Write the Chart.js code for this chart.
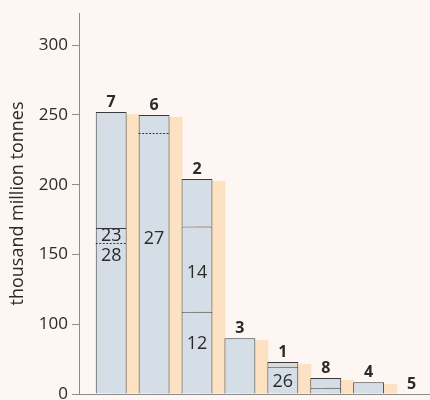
<!DOCTYPE html>
<html>
<head>
<meta charset="utf-8">
<script src="https://cdn.jsdelivr.net/npm/chart.js@4"></script>
<style>
    html, body { margin: 0; padding: 0; background: #fdf6f3; }
    #wrap { width: 430px; height: 400px; }
</style>
</head>
<body>
<div id="wrap"><canvas id="chart"></canvas></div>
<script>
const barLabels = ['7', '6', '2', '3', '1', '8', '4', '5'];
const lowerPart = [158, 237, 109, 80, 39, 9, 17, 0];
const middlePart = [11, 13, 61, 0, 7, 14, 0, 0];
const upperPart = [83, 0, 34, 0, 0, 0, 0, 0];

// line on top of the lower / middle part: 'solid', 'dashed' or ''
const lowerDivider = ['dashed', 'dashed', 'solid', '', 'solid', 'solid', '', ''];
const middleDivider = ['solid', '', 'solid', '', '', '', '', ''];

// numbers written inside the bars
const noteText = ['23', '28', '27', '14', '12', '26'];
const noteBar = [0, 0, 1, 2, 2, 4];
const noteValue = [163, 149, 161, 137, 72, 18];

const yTicks = [0, 100, 150, 200, 250, 300];

const barFill = '#d5dee6';
const barLine = '#3a3a3a';
const shadowFill = '#fce2c2';
const axisGray = '#8c8c8c';
const textColor = '#2b2b2b';

Chart.defaults.font.family = '"Open Sans", sans-serif';

// the axis is squeezed below 100: 0-100 takes the room of 50
const squeeze = v => v < 100 ? v / 2 : v - 50;

class BrokenScale extends Chart.LinearScale {
    getPixelForValue(value) {
        const a = squeeze(this.min), b = squeeze(this.max);
        return this.getPixelForDecimal((squeeze(value) - a) / (b - a));
    }
    getValueForPixel(pixel) {
        const a = squeeze(this.min), b = squeeze(this.max);
        const s = a + this.getDecimalForPixel(pixel) * (b - a);
        return s < 50 ? s * 2 : s + 50;
    }
}
BrokenScale.id = 'broken';
BrokenScale.defaults = Chart.LinearScale.defaults;
Chart.register(BrokenScale);

function toPoints(values) {
    return values.map((v, i) => ({ x: i + 1, y: v }));
}

function partBorder(topLine) {
    return { top: topLine ? 1 : 0, left: 1, right: 1, bottom: 0 };
}

function stackTop(chart, i) {
    let top = null;
    for (let d = 0; d < 3; d++) {
        const el = chart.getDatasetMeta(d).data[i];
        if (top === null || el.y < top.y) top = el;
    }
    return top;
}

const shadowPlugin = {
    id: 'shadows',
    beforeDatasetsDraw(chart) {
        const ctx = chart.ctx;
        ctx.save();
        ctx.fillStyle = shadowFill;
        barLabels.forEach((label, i) => {
            const top = stackTop(chart, i);
            const base = chart.getDatasetMeta(0).data[i].base;
            if (base - top.y < 1) return;
            ctx.fillRect(top.x - top.width / 2 + 13, top.y + 2, top.width, base - top.y - 2);
        });
        ctx.restore();
    }
};

const notesPlugin = {
    id: 'notes',
    afterDatasetsDraw(chart) {
        const ctx = chart.ctx;
        const y = chart.scales.y;
        ctx.save();

        // dashed dividers
        ctx.strokeStyle = barLine;
        ctx.lineWidth = 1;
        ctx.setLineDash([2, 1.5]);
        [[0, lowerDivider], [1, middleDivider]].forEach(([d, lines]) => {
            chart.getDatasetMeta(d).data.forEach((el, i) => {
                if (lines[i] !== 'dashed') return;
                const py = Math.round(el.y) + 0.5;
                ctx.beginPath();
                ctx.moveTo(el.x - el.width / 2, py);
                ctx.lineTo(el.x + el.width / 2, py);
                ctx.stroke();
            });
        });
        ctx.setLineDash([]);

        // numbers inside bars
        ctx.fillStyle = textColor;
        ctx.textAlign = 'center';
        ctx.textBaseline = 'middle';
        ctx.font = '18px "Open Sans", sans-serif';
        noteText.forEach((t, k) => {
            const el = chart.getDatasetMeta(0).data[noteBar[k]];
            ctx.fillText(t, el.x, y.getPixelForValue(noteValue[k]));
        });

        // bold labels over bars
        ctx.textBaseline = 'alphabetic';
        ctx.font = 'bold 16px "Open Sans", sans-serif';
        barLabels.forEach((label, i) => {
            const top = stackTop(chart, i);
            ctx.fillText(label, top.x, top.y - 5);
        });
        ctx.restore();
    }
};

const partStyle = {
    backgroundColor: barFill,
    borderColor: barLine,
    borderSkipped: false,
    inflateAmount: 0,
    barPercentage: 0.72,
    categoryPercentage: 1
};

new Chart(document.getElementById('chart'), {
    type: 'bar',
    data: {
        datasets: [
            {
                ...partStyle,
                data: toPoints(lowerPart),
                borderWidth: c => partBorder(lowerDivider[c.dataIndex] === 'solid' ||
                    middlePart[c.dataIndex] + upperPart[c.dataIndex] === 0)
            },
            {
                ...partStyle,
                data: toPoints(middlePart),
                borderWidth: c => partBorder(middleDivider[c.dataIndex] === 'solid' ||
                    upperPart[c.dataIndex] === 0)
            },
            {
                ...partStyle,
                data: toPoints(upperPart),
                borderWidth: () => partBorder(true)
            }
        ]
    },
    options: {
        responsive: true,
        maintainAspectRatio: false,
        animation: false,
        layout: { padding: { top: 13, bottom: 6, left: 0, right: 0 } },
        scales: {
            x: {
                type: 'linear',
                min: 0.25,
                max: 8.43,
                offset: false,
                stacked: true,
                display: false
            },
            y: {
                type: 'broken',
                min: 0,
                max: 323,
                stacked: true,
                afterBuildTicks: s => { s.ticks = yTicks.map(v => ({ value: v })); },
                afterFit: s => { s.width = 79; s.paddingTop = 0; s.paddingBottom = 0; },
                ticks: {
                    color: textColor,
                    padding: 4,
                    font: { size: 17 },
                    callback: v => String(v)
                },
                grid: {
                    color: c => c.tick && c.tick.value === 0 ? axisGray : 'rgba(0,0,0,0)',
                    tickColor: axisGray,
                    tickLength: 7
                },
                border: { display: true, color: axisGray, width: 1 },
                title: {
                    display: true,
                    text: 'thousand million tonnes',
                    color: textColor,
                    font: { size: 18 },
                    padding: { top: 7, bottom: 0 }
                }
            }
        },
        plugins: {
            colors: { enabled: false },
            legend: { display: false },
            tooltip: { enabled: false }
        }
    },
    plugins: [shadowPlugin, notesPlugin]
});
</script>
</body>
</html>
